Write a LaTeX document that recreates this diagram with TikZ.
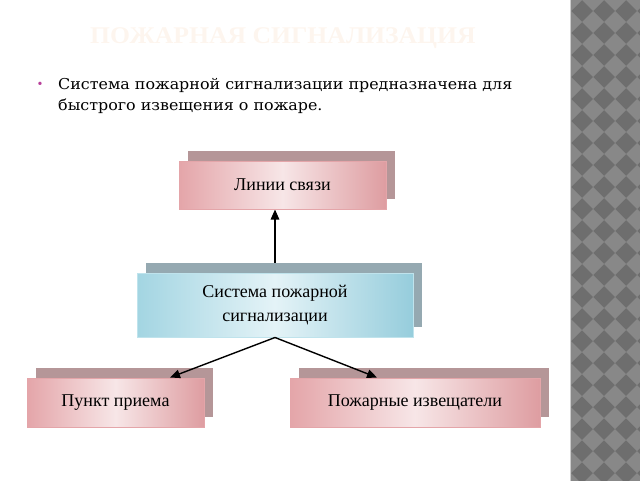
\documentclass[tikz,border=0pt]{standalone}
\usepackage{fontspec}
\setmainfont{Liberation Serif}
\newfontfamily\bodyfont[FakeStretch=1.06]{DejaVu Serif}
\newfontfamily\titlefont[FakeStretch=1.07]{Liberation Serif}
\usetikzlibrary{arrows.meta,shadows,backgrounds}
\definecolor{titlecol}{HTML}{FDF5EE}
\definecolor{bulletcol}{HTML}{B8409A}
\definecolor{pinkedge}{HTML}{E4A5A9}
\definecolor{pinkmid}{HTML}{F7E6E7}
\definecolor{pinkdark}{HTML}{DE9DA1}
\definecolor{pinkshadow}{HTML}{B59698}
\definecolor{blueedge}{HTML}{A3D5E2}
\definecolor{bluemid}{HTML}{E4F3F7}
\definecolor{bluedark}{HTML}{96CDDC}
\definecolor{blueborder}{HTML}{BFE3EC}
\definecolor{blueshadow}{HTML}{95A9B1}
\definecolor{stripdark}{HTML}{6E6E6E}
\definecolor{striplight}{HTML}{888888}
\tikzset{
  boxtext/.style={font=\fontsize{18}{24}\selectfont, align=center, text=black},
  pinkbox/.style={boxtext, draw=pinkedge, line width=1pt,
    left color=pinkedge, right color=pinkdark, middle color=pinkmid,
    general shadow={fill=pinkshadow, shadow xshift=9pt, shadow yshift=10.5pt}},
  bluebox/.style={boxtext, draw=blueborder, line width=1pt,
    left color=blueedge, right color=bluedark, middle color=bluemid,
    general shadow={fill=blueshadow, shadow xshift=9pt, shadow yshift=10.5pt}},
  conn/.style={line width=1.4pt, black, -{Triangle[length=10pt,width=8.5pt]}}
}
\begin{document}
\begin{tikzpicture}[x=1pt,y=-1pt]
\useasboundingbox (0,0) rectangle (640,480);
% decorative strip
\begin{scope}
\clip (571,-2) rectangle (642,482);
\fill[stripdark] (571,-2) rectangle (642,482);
\foreach \i in {0,...,4}{
  \foreach \j in {0,...,23}{
    \fill[striplight] ({571+\i*22},{\j*22-11}) -- ++(11,11) -- ++(-11,11) -- ++(-11,-11) -- cycle;
  }
}
\end{scope}
\draw[line width=1pt, color=black!20] (570.5,-2) -- (570.5,482);
% title
\node[font=\titlefont\bfseries\fontsize{24}{28}\selectfont, text=titlecol, anchor=base west, inner sep=0pt] (title) at (90,43) {ПОЖАРНАЯ СИГНАЛИЗАЦИЯ};
% bullet text
\node[font=\fontsize{14}{16}\selectfont, text=bulletcol, anchor=base] (bul) at (40,88) {•};
\node[font=\bodyfont\fontsize{15}{21}\selectfont, anchor=base west, inner sep=0pt] (line1) at (58,89) {Система пожарной сигнализации предназначена для};
\node[font=\bodyfont\fontsize{15}{21}\selectfont, anchor=base west, inner sep=0pt] (line2) at (58,110) {быстрого извещения о пожаре.};
% boxes
\node[pinkbox, minimum width=207pt, minimum height=48pt] (b1) at (282.5,185) {Линии связи};
\node[bluebox, minimum width=276pt, minimum height=64pt] (b2) at (275,305) {Система пожарной\\сигнализации};
\node[pinkbox, minimum width=177pt, minimum height=49pt] (b3) at (115.5,402.5) {Пункт приема};
\node[pinkbox, minimum width=250pt, minimum height=49pt] (b4) at (415,402.5) {Пожарные извещатели};
% connectors
\begin{scope}[on background layer]
\draw[conn] (b2.north) -- (b2.north |- b1.south);
\end{scope}
\draw[conn] (b2.south) -- ([xshift=54.5pt]b3.north);
\draw[conn] (b2.south) -- ([xshift=-38pt]b4.north);
\end{tikzpicture}
\end{document}
